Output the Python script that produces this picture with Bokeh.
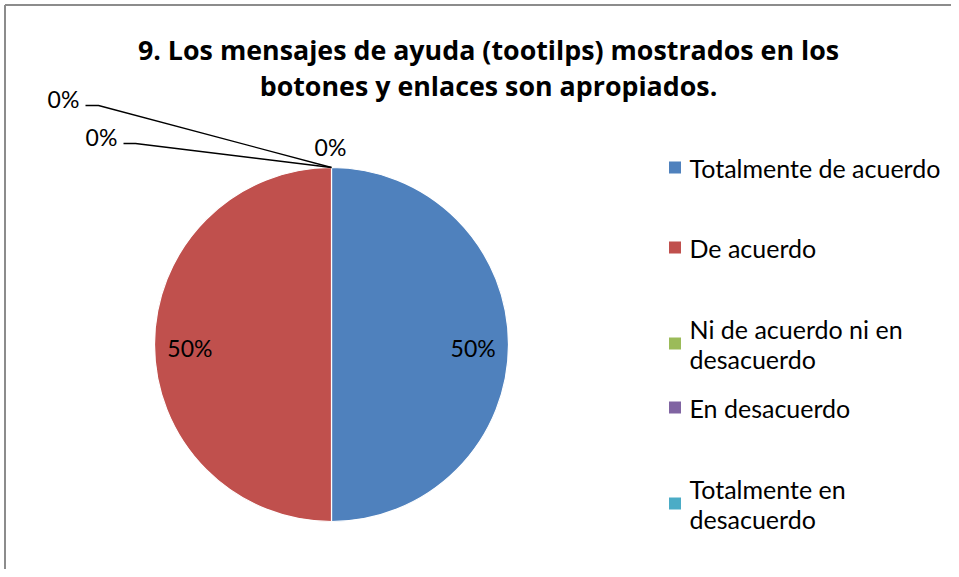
import numpy as np
from bokeh.plotting import figure
from bokeh.models import Range1d, ColumnDataSource
from bokeh.core.properties import value
from bokeh.embed import file_html
from bokeh.resources import INLINE

# ---- data ----
title_lines = ["9. Los mensajes de ayuda (tootilps) mostrados en los",
               "botones y enlaces son apropiados."]
categories = ["Totalmente de acuerdo", "De acuerdo", "Ni de acuerdo ni en desacuerdo",
              "En desacuerdo", "Totalmente en desacuerdo"]
legend_labels = ["Totalmente de acuerdo", "De acuerdo", "Ni de acuerdo ni en\ndesacuerdo",
                 "En desacuerdo", "Totalmente en\ndesacuerdo"]
values = [50, 50, 0, 0, 0]
colors = ["#4F81BD", "#C0504D", "#9BBB59", "#8064A2", "#4BACC6"]

FONT = "Lato"
TFONT = "Open Sans"
W, H = 951, 569
p = figure(width=W, height=H, output_backend="svg", toolbar_location=None,
           x_range=Range1d(0, W), y_range=Range1d(-H, 0),
           min_border=0, outline_line_color=None)
p.axis.visible = False
p.grid.visible = False
p.background_fill_color = "white"
p.border_fill_color = "white"

# chart border (top and left visible)
p.segment(x0=[4.5, 4.5], y0=[-4.5, -4.5], x1=[W, 4.5], y1=[-4.5, -H],
          line_color="#8c8c8c", line_width=2)

# ---- pie ----
cx, cy, r = 331, -344, 177
vals = np.array(values, dtype=float)
frac = vals / vals.sum()
ends = np.pi / 2 - 2 * np.pi * np.cumsum(frac)
starts = np.concatenate([[np.pi / 2], ends[:-1]])
nz = vals > 0
src = ColumnDataSource(dict(start=starts[nz], end=ends[nz], color=np.array(colors)[nz]))
p.wedge(x=cx, y=cy, radius=r, start_angle="start", end_angle="end", direction="clock",
        fill_color="color", line_color="white", line_width=1.2, source=src)

# data labels
mid = (starts + ends) / 2
lab_x, lab_y, lab_t = [], [], []
for i in range(len(values)):
    if vals[i] > 0:
        lab_x.append(cx + 0.8 * r * np.cos(mid[i]))
        lab_y.append(cy + 0.8 * r * np.sin(mid[i]) - 3)
        lab_t.append(f"{int(round(frac[i]*100))}%")
p.text(x=lab_x, y=lab_y, text=lab_t, text_font=value(FONT), text_font_size="23px",
       text_align="center", text_baseline="middle", text_color="black")

# zero labels near top
zero_idx = [i for i in range(len(values)) if vals[i] == 0]
tip_x, tip_y = cx + r * np.cos(np.pi / 2), cy + r * np.sin(np.pi / 2)
zero_pos = [(330, -146, None), (101, -136, (123, 135)), (63, -98, (85, 98))]
for k, i in enumerate(zero_idx):
    zx, zy, lead = zero_pos[k]
    p.text(x=[zx], y=[zy], text=[f"{int(round(frac[i]*100))}%"], text_font=value(FONT),
           text_font_size="23px", text_align="center", text_baseline="middle")
    if lead is not None:
        p.line(x=[lead[0], lead[1], tip_x], y=[zy - 7, zy - 7, tip_y],
               line_color="black", line_width=1.3)

# ---- title ----
p.text(x=[488, 488], y=[-49, -85], text=title_lines, text_font=value(TFONT),
       text_font_size="26.8px", text_font_style="bold", text_align="center",
       text_baseline="middle", text_color="black")

# ---- legend ----
leg_y = [-167, -247, -343, -407, -503]
p.rect(x=[674.5] * 5, y=leg_y, width=12, height=12, fill_color=colors, line_color=None)
for yy, lab in zip(leg_y, legend_labels):
    p.text(x=[689], y=[yy], text=[lab], text_font=value(FONT), text_font_size="25px",
           text_align="left", text_baseline="middle", text_color="black",
           text_line_height=1.0)

open("out.html", "w").write(file_html(p, INLINE))
